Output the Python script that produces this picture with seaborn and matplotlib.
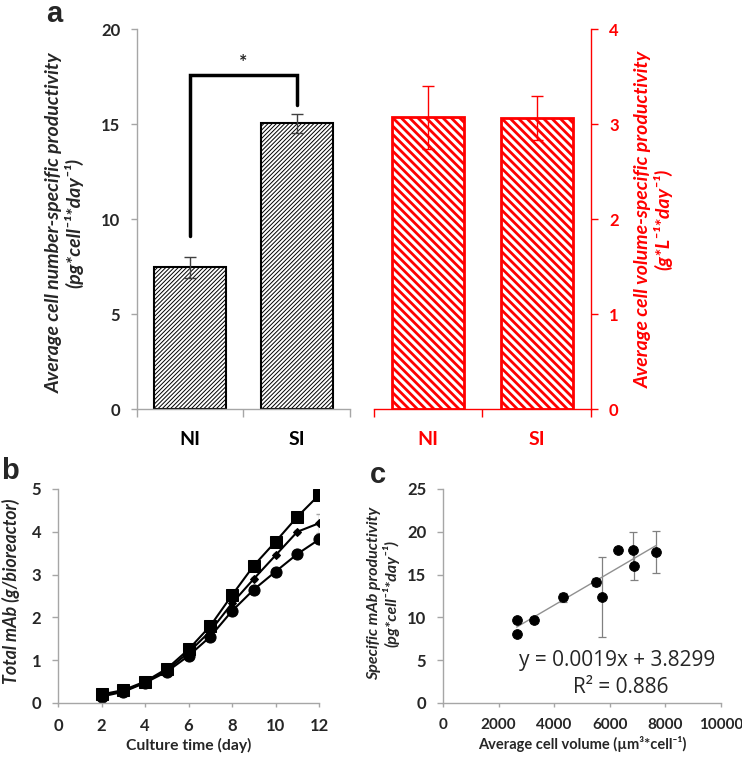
import numpy as np
import pandas as pd
import seaborn as sns
import matplotlib.pyplot as plt

## data
groups = ['NI', 'SI']
qp_cell = [7.45, 15.05]
qp_cell_err = [0.53, 0.50]
qp_vol = [3.07, 3.06]
qp_vol_err = [0.33, 0.23]

days = [2, 3, 4, 5, 6, 7, 8, 9, 10, 11, 12]
mab_sq = [0.20, 0.30, 0.50, 0.80, 1.25, 1.80, 2.52, 3.21, 3.77, 4.35, 4.86]
mab_dia = [0.18, 0.28, 0.48, 0.76, 1.18, 1.68, 2.33, 2.90, 3.45, 4.00, 4.20]
mab_circ = [0.15, 0.26, 0.47, 0.73, 1.10, 1.55, 2.15, 2.65, 3.07, 3.48, 3.82]
mab_dia_err = [0.02, 0.02, 0.03, 0.03, 0.05, 0.05, 0.05, 0.05, 0.05, 0.05, 0.22]

cell_vol = [2650, 2650, 3280, 4310, 5520, 5730, 6280, 6820, 6880, 7680]
qp_spec = [8.1, 9.7, 9.7, 12.35, 14.15, 12.35, 17.9, 17.9, 16.0, 17.6]
qp_spec_err = [0.2, 0.2, 0.4, 0.5, 0.5, 4.65, 0.3, 2.1, 1.6, 2.45]
slope, intercept = 0.0019, 3.8299

RED = '#ff0000'
GRID = '#a6a6a6'
TICK_FS = 12

sns.set_style('white')
plt.rcParams['font.family'] = ['Lato', 'DejaVu Sans']
plt.rcParams['axes.linewidth'] = 1.0

fig = plt.figure(figsize=(7.42, 7.58), dpi=100)


def excel_cat_axis(ax, color, tickcolor):
    ax.set_xlim(-0.5, 1.5)
    ax.set_xticks([0, 1])
    ax.set_xticks([-0.5, 0.5, 1.5], minor=True)
    ax.tick_params(axis='x', which='major', length=0, pad=16, labelsize=14,
                   colors=color)
    ax.tick_params(axis='x', which='minor', length=6, width=1, color=tickcolor,
                   direction='out', bottom=True)
    for lab in ax.get_xticklabels():
        lab.set_fontweight('bold')
    ax.set_xlabel('')


def set_hatch_lw(ax, lw):
    for p in ax.patches:
        if hasattr(p, 'set_hatch_linewidth'):
            p.set_hatch_linewidth(lw)


def bold_ticks(ax):
    for lab in ax.get_xticklabels() + ax.get_yticklabels():
        lab.set_fontweight('bold')


## panel a, left
ax1 = fig.add_axes([0.1846, 0.4604, 0.2871, 0.5013])
df_a = pd.DataFrame({'group': groups, 'qp': qp_cell})
with plt.rc_context({'hatch.linewidth': 0.7}):
    sns.barplot(data=df_a, x='group', y='qp', ax=ax1, width=0.68,
                color='white', edgecolor='black', linewidth=1.5,
                hatch='////////', errorbar=None)
set_hatch_lw(ax1, 0.7)
ax1.errorbar([0, 1], qp_cell, yerr=qp_cell_err, fmt='none', ecolor='#404040',
             elinewidth=1, capsize=4, capthick=1)
ax1.plot([0, 0, 1, 1], [9.1, 17.6, 17.6, 16.0], color='black', lw=2.5,
         solid_joinstyle='miter')
ax1.text(0.5, 18.25, '*', ha='center', va='center', fontsize=14, fontweight='bold')
ax1.set_ylim(0, 20)
ax1.set_yticks([0, 5, 10, 15, 20])
ax1.tick_params(axis='y', length=4, width=1, color=GRID, direction='out',
                left=True, labelsize=TICK_FS, pad=8)
excel_cat_axis(ax1, 'black', GRID)
bold_ticks(ax1)
for s in ['top', 'right']:
    ax1.spines[s].set_visible(False)
for s in ['left', 'bottom']:
    ax1.spines[s].set_color(GRID)
ax1.set_ylabel('Average cell number-specific productivity\n(pg*cell⁻¹*day⁻¹)',
               fontsize=14, fontweight='bold', fontstyle='italic',
               linespacing=1.15)
ax1.yaxis.set_label_coords(-0.25, 0.49)

## panel a, right
ax2 = fig.add_axes([0.5040, 0.4604, 0.2925, 0.5013])
df_b = pd.DataFrame({'group': groups, 'qp': qp_vol})
with plt.rc_context({'hatch.linewidth': 2.0}):
    sns.barplot(data=df_b, x='group', y='qp', ax=ax2, width=0.66,
                color='white', edgecolor=RED, linewidth=2.0,
                hatch='\\\\\\\\', errorbar=None)
set_hatch_lw(ax2, 2.0)
ax2.errorbar([0, 1], qp_vol, yerr=qp_vol_err, fmt='none', ecolor=RED,
             elinewidth=1, capsize=4, capthick=1)
ax2.set_ylim(0, 4)
ax2.set_yticks([0, 1, 2, 3, 4])
ax2.yaxis.tick_right()
ax2.yaxis.set_label_position('right')
ax2.tick_params(axis='y', length=5, width=1, color=RED, direction='out',
                right=True, left=False, labelsize=TICK_FS, labelcolor=RED, pad=8)
excel_cat_axis(ax2, RED, RED)
bold_ticks(ax2)
for s in ['top', 'left']:
    ax2.spines[s].set_visible(False)
for s in ['right', 'bottom']:
    ax2.spines[s].set_color(RED)
ax2.set_ylabel('Average cell volume-specific productivity\n(g*L⁻¹*day⁻¹)',
               fontsize=14, fontweight='bold', fontstyle='italic',
               color=RED, linespacing=1.15, rotation=90)
ax2.yaxis.set_label_coords(1.2, 0.5)

## panel b
ax3 = fig.add_axes([0.0782, 0.0726, 0.3518, 0.2823])
ax3.errorbar(days, mab_dia, yerr=mab_dia_err, fmt='none', ecolor=GRID,
             elinewidth=1, capsize=2.5, zorder=1)
sns.lineplot(x=days, y=mab_sq, ax=ax3, color='black', marker='s',
             markersize=8, lw=1.5, markeredgecolor='black')
sns.lineplot(x=days, y=mab_dia, ax=ax3, color='black', marker='D',
             markersize=4.5, lw=1.5, markeredgecolor='black')
sns.lineplot(x=days, y=mab_circ, ax=ax3, color='black', marker='o',
             markersize=8, lw=1.5, markeredgecolor='black')
ax3.set_xlim(0, 12)
ax3.set_ylim(0, 5)
ax3.set_xticks(range(0, 13, 2))
ax3.set_yticks(range(0, 6))
ax3.tick_params(axis='y', length=4, width=1, color=GRID, direction='out',
                left=True, labelsize=TICK_FS, pad=8)
ax3.tick_params(axis='x', length=3, width=1, color=GRID, direction='out',
                bottom=True, labelsize=TICK_FS, pad=8)
bold_ticks(ax3)
for s in ['top', 'right']:
    ax3.spines[s].set_visible(False)
for s in ['left', 'bottom']:
    ax3.spines[s].set_color(GRID)
ax3.set_xlabel('Culture time (day)', fontsize=11.3, fontweight='bold', labelpad=3)
ax3.set_ylabel('Total mAb (g/bioreactor)', fontsize=12.8, fontweight='bold',
               fontstyle='italic')
ax3.yaxis.set_label_coords(-0.146, 0.52)

## panel c
ax4 = fig.add_axes([0.5970, 0.0726, 0.3747, 0.2823])
ax4.errorbar(cell_vol, qp_spec, yerr=qp_spec_err, fmt='none', ecolor='#808080',
             elinewidth=0.9, capsize=3, capthick=0.9, zorder=1)
sns.scatterplot(x=cell_vol, y=qp_spec, ax=ax4, color='black', s=50,
                edgecolor='black', zorder=3)
xfit = np.array([min(cell_vol), max(cell_vol)])
ax4.plot(xfit, slope * xfit + intercept, color='#909090', lw=1, zorder=2)
ax4.text(0.625, 0.20, 'y = 0.0019x + 3.8299', transform=ax4.transAxes,
         ha='center', va='center', fontsize=15,
         family=['Open Sans', 'DejaVu Sans'])
ax4.text(0.64, 0.07, 'R² = 0.886', transform=ax4.transAxes,
         ha='center', va='center', fontsize=15,
         family=['Open Sans', 'DejaVu Sans'])
ax4.set_xlim(0, 10000)
ax4.set_ylim(0, 25)
ax4.set_xticks(range(0, 10001, 2000))
ax4.set_yticks(range(0, 26, 5))
ax4.tick_params(axis='y', length=4, width=1, color=GRID, direction='out',
                left=True, labelsize=TICK_FS, pad=8)
ax4.tick_params(axis='x', length=3, width=1, color=GRID, direction='out',
                bottom=True, labelsize=11, pad=8)
bold_ticks(ax4)
for s in ['top', 'right']:
    ax4.spines[s].set_visible(False)
for s in ['left', 'bottom']:
    ax4.spines[s].set_color(GRID)
ax4.set_xlabel('Average cell volume (µm³*cell⁻¹)', fontsize=10.5,
               fontweight='bold', labelpad=3)
ax4.set_ylabel('Specific mAb productivity\n(pg*cell⁻¹*day⁻¹)', fontsize=11.5,
               fontweight='bold', fontstyle='italic', linespacing=1.1)
ax4.yaxis.set_label_coords(-0.155, 0.51)

## panel letters
fig.text(0.062, 1.0, 'a', fontsize=21, fontweight='bold', ha='left', va='top',
         family=['Liberation Sans', 'DejaVu Sans'])
fig.text(0.002, 0.397, 'b', fontsize=21, fontweight='bold', ha='left', va='top',
         family=['Liberation Sans', 'DejaVu Sans'])
fig.text(0.499, 0.392, 'c', fontsize=21, fontweight='bold', ha='left', va='top',
         family=['Liberation Sans', 'DejaVu Sans'])

fig.savefig('out.png', dpi=100)
